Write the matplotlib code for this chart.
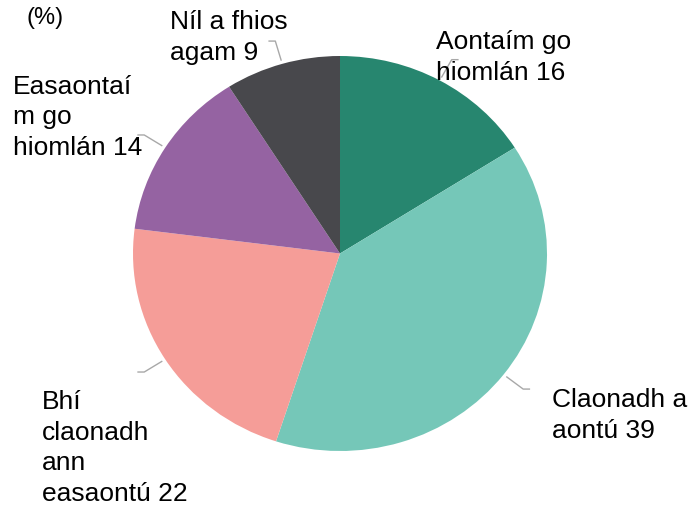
import matplotlib.pyplot as plt
import numpy as np

plt.rcParams['font.family'] = ['Liberation Sans', 'DejaVu Sans']

# data
labels = ["Aontaím go\nhiomlán", "Claonadh a\naontú", "Bhí\nclaonadh\nann\neasaontú",
          "Easaontaí\nm go\nhiomlán", "Níl a fhios\nagam"]
values = [16, 39, 22, 14, 9]
colors = ["#27866f", "#75c7b8", "#f59d98", "#9563a2", "#48484c"]

W, H = 690, 508
fig = plt.figure(figsize=(W / 100, H / 100), dpi=100)

# pie box in pixels: x 133..547, y 56..451
ax = fig.add_axes([133 / W, 1 - 451 / H, 414 / W, 395 / H])
wedges, _ = ax.pie(values, colors=colors, startangle=90, counterclock=False,
                   wedgeprops=dict(linewidth=0))
ax.set_xlim(-1, 1)
ax.set_ylim(-1, 1)
ax.set_aspect('auto')
ax.axis('off')

# leader lines
for w in wedges:
    ang = np.deg2rad((w.theta1 + w.theta2) / 2)
    c, s = np.cos(ang), np.sin(ang)
    x1, y1 = 1.02 * c, 1.02 * s
    x2, y2 = 1.12 * c, 1.12 * s
    x3 = x2 + (0.03 if c > 0 else -0.03)
    ax.plot([x1, x2, x3], [y1, y2, y2], color="#a8a8a8", lw=1, clip_on=False)

# label positions (left x, first baseline y) in pixels
label_pos = [(436, 50), (552, 408), (42, 411), (13, 95), (170, 30)]
step = 30
for lab, v, (px, py) in zip(labels, values, label_pos):
    n = lab.count("\n")
    fig.text(px / W, 1 - (py + n * step) / H, f"{lab} {v}", fontsize=19,
             ha='left', va='baseline', linespacing=1.35, color='black')

fig.text(26 / W, 1 - 24 / H, "(%)", fontsize=17, ha='left', va='baseline')

fig.savefig("out.png", dpi=100)
